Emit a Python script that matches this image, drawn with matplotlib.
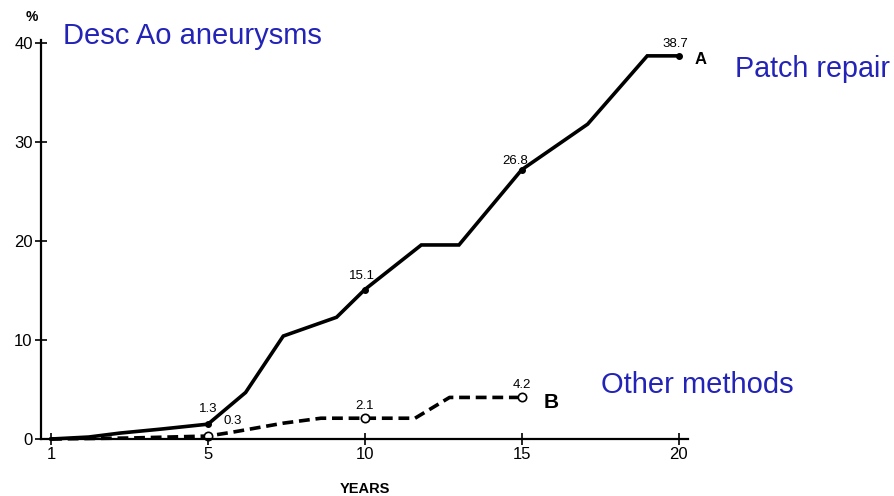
import matplotlib
matplotlib.use("Agg")
import matplotlib.pyplot as plt

# curve A: patch repair
a_years = [0, 1.2, 2.2, 3.5, 5, 6.2, 7.4, 9.1, 10, 11.8, 13.0, 15, 17.1, 19.0, 20]
a_pct = [0, 0.2, 0.6, 1.0, 1.5, 4.7, 10.4, 12.3, 15.1, 19.6, 19.6, 27.2, 31.8, 38.7, 38.7]
# curve B: other methods
b_years = [0, 2.5, 5, 5.8, 7.4, 8.6, 10, 11.6, 12.7, 15]
b_pct = [0, 0.1, 0.3, 0.7, 1.6, 2.1, 2.1, 2.1, 4.2, 4.2]

a_marks = [(5, 1.5, "1.3"), (10, 15.1, "15.1"), (15, 27.2, "26.8"), (20, 38.7, "38.7")]
b_marks = [(5, 0.3, "0.3"), (10, 2.1, "2.1"), (15, 4.2, "4.2")]

xtick_pos = [0, 5, 10, 15, 20]
xtick_labels = ["1", "5", "10", "15", "20"]
ytick_pos = [0, 10, 20, 30, 40]

plt.rcParams['font.family'] = ['Liberation Sans', 'DejaVu Sans']

fig = plt.figure(figsize=(8.94, 4.96), dpi=100)
ax = fig.add_axes([0.0459, 0.1149, 0.7237, 0.8044])

ax.plot(a_years, a_pct, color='black', lw=2.6, clip_on=False, solid_joinstyle='miter')
ax.plot(b_years, b_pct, color='black', lw=2.6, ls=(0, (3, 1.6)), clip_on=False)

for x, y, t in a_marks:
    ax.plot(x, y, 'o', color='black', ms=4, clip_on=False)
for x, y, t in b_marks:
    ax.plot(x, y, 'o', mfc='white', mec='black', mew=1.2, ms=6, clip_on=False)

# value labels
ax.text(5.0, 2.4, "1.3", fontsize=9.5, ha='center', va='bottom')
ax.text(5.8, 1.2, "0.3", fontsize=9.5, ha='center', va='bottom')
ax.text(9.9, 15.9, "15.1", fontsize=9.5, ha='center', va='bottom')
ax.text(14.8, 27.5, "26.8", fontsize=9.5, ha='center', va='bottom')
ax.text(19.9, 39.3, "38.7", fontsize=9.5, ha='center', va='bottom')
ax.text(10.0, 2.7, "2.1", fontsize=9.5, ha='center', va='bottom')
ax.text(15.0, 4.8, "4.2", fontsize=9.5, ha='center', va='bottom')
ax.text(20.5, 38.3, "A", fontsize=12, fontweight='bold', ha='left', va='center')
ax.text(15.7, 3.7, "B", fontsize=15, fontweight='bold', ha='left', va='center')

ax.set_xlim(-0.32, 20.3)
ax.set_ylim(0, 40.3)
ax.set_xticks(xtick_pos)
ax.set_xticklabels(xtick_labels)
ax.set_yticks(ytick_pos)
ax.tick_params(direction='inout', length=8, width=1.2, labelsize=12, pad=2)
for s in ['top', 'right']:
    ax.spines[s].set_visible(False)
for s in ['left', 'bottom']:
    ax.spines[s].set_linewidth(1.6)

ax.set_xlabel("YEARS", fontsize=10.5, fontweight='bold')
ax.xaxis.set_label_coords(0.5, -0.107)

fig.text(32 / 894, 1 - 17 / 496, "%", fontsize=10, fontweight='bold', ha='center', va='center')

blue = '#2323b8'
fig.text(63 / 894, 1 - 36 / 496, "Desc Ao aneurysms", fontsize=21, color=blue, ha='left', va='center')
fig.text(735 / 894, 1 - 69 / 496, "Patch repair", fontsize=20.7, color=blue, ha='left', va='center')
fig.text(601 / 894, 1 - 385 / 496, "Other methods", fontsize=21, color=blue, ha='left', va='center')

fig.savefig("out.png", dpi=100)
